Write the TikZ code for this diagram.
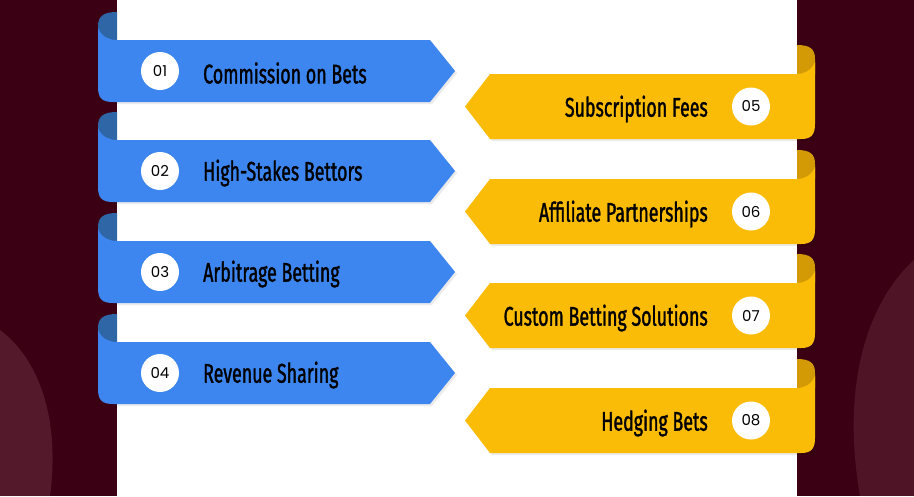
\documentclass[tikz,border=0pt]{standalone}
\usepackage{fontspec}
\newfontfamily\labfont[FakeStretch=0.66,FakeBold=1.2]{Fira Sans}
\newfontfamily\numfont{Poppins}
\definecolor{bgc}{HTML}{3B0014}
\definecolor{bluec}{HTML}{3D86F0}
\definecolor{bluefold}{HTML}{2F66A6}
\definecolor{yelc}{HTML}{FBBC08}
\definecolor{yelfold}{HTML}{D39A05}
\tikzset{
 numc/.style={circle,fill=white,minimum size=38pt,inner sep=0pt,font=\numfont\fontsize{15}{15}\selectfont},
 labl/.style={anchor=west,inner sep=0pt,font=\labfont\fontsize{27}{27}\selectfont},
 labr/.style={anchor=east,inner sep=0pt,font=\labfont\fontsize{27}{27}\selectfont},
}
\begin{document}
\begin{tikzpicture}[x=1pt,y=-1pt]
\fill[bgc] (0,0) rectangle (914,496);
\fill[bgc!80!red!60!white,opacity=0.25] (0,330) .. controls (40,360) and (60,420) .. (50,496) -- (0,496) -- cycle;
\fill[bgc!80!red!60!white,opacity=0.2] (914,260) .. controls (870,300) and (840,380) .. (860,496) -- (914,496) -- cycle;
\fill[white] (117,0) rectangle (797,496);
\useasboundingbox (0,0) rectangle (914,496);
% left ribbons
\foreach \t/\n/\txt in {40/01/Commission on Bets,140/02/High-Stakes Bettors,241/03/Arbitrage Betting,342/04/Revenue Sharing}{
  \fill[bluefold] (117,\t+5) -- (117,\t-28) .. controls (104,\t-28) and (98,\t-24) .. (98,\t-14) -- (98,\t) -- cycle;
  \fill[black,opacity=0.08] (100,\t-10) .. controls (104,\t-1) and (110,\t+2) .. (119,\t+2) -- (432,\t+2) -- (457,\t+33) -- (432,\t+64) -- (113,\t+64) -- cycle;
  \fill[bluec] (98,\t-12) .. controls (102,\t-3) and (109,\t) .. (117,\t) -- (430,\t) -- (455,\t+31) -- (430,\t+62) -- (113,\t+62) .. controls (102,\t+62) and (98,\t+58) .. (98,\t+47) -- cycle;
  \node[numc] (n\n) at (160,\t+31) {\n};
  \node[labl] (t\n) at (203,\t+33) {\txt};
}
% right ribbons
\foreach \t/\n/\txt in {74/05/Subscription Fees,179/06/Affiliate Partnerships,283/07/Custom Betting Solutions,388/08/Hedging Bets}{
  \fill[yelfold] (797,\t+5) -- (797,\t-29) .. controls (810,\t-29) and (815,\t-25) .. (815,\t-15) -- (815,\t) -- cycle;
  \fill[black,opacity=0.08] (467,\t+34) -- (492,\t+2) -- (799,\t+2) -- (815,\t+20) -- (815,\t+67) -- (492,\t+67) -- cycle;
  \fill[yelc] (815,\t-12) .. controls (811,\t-3) and (804,\t) .. (797,\t) -- (490,\t) -- (465,\t+32.5) -- (490,\t+65) -- (801,\t+65) .. controls (811,\t+65) and (815,\t+61) .. (815,\t+50) -- cycle;
  \node[numc] (n\n) at (751,\t+32.5) {\n};
  \node[labr] (t\n) at (708,\t+35) {\txt};
}
\end{tikzpicture}
\end{document}
